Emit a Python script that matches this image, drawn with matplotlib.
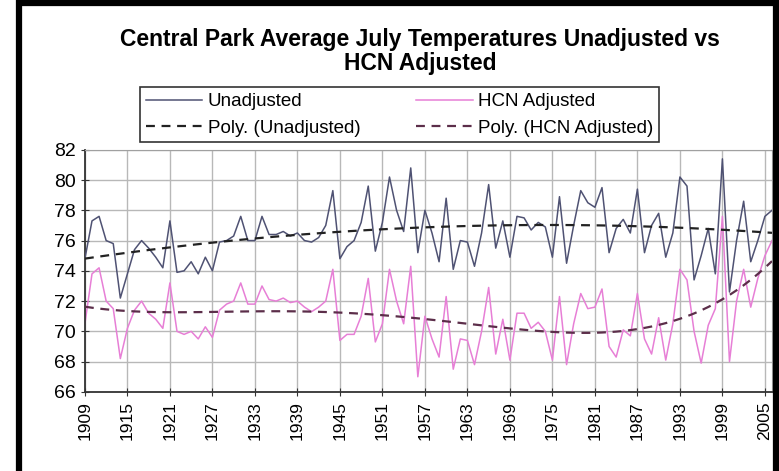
import numpy as np
import matplotlib
matplotlib.use('Agg')
import matplotlib.pyplot as plt
from matplotlib.patches import Rectangle

plt.rcParams['font.family'] = ['Liberation Sans', 'DejaVu Sans']

# Years 1909-2006
years = list(range(1909, 2007))

# Unadjusted July averages (deg F)
unadjusted = [
    74.8, 77.3, 77.6, 76.0, 75.8, 72.2, 73.8, 75.4, 76.0, 75.5,  # 1909-1918
    74.9, 74.2, 77.3, 73.9, 74.0, 74.6, 73.8, 74.9, 74.0, 75.9,  # 1919-1928
    76.0, 76.3, 77.6, 76.0, 76.0, 77.6, 76.4, 76.4, 76.6, 76.3,  # 1929-1938
    76.5, 76.0, 75.9, 76.2, 77.0, 79.3, 74.8, 75.6, 76.0, 77.2,  # 1939-1948
    79.6, 75.3, 77.2, 80.2, 78.0, 76.6, 80.8, 75.2, 78.0, 76.5,  # 1949-1958
    74.6, 78.8, 74.1, 76.0, 75.9, 74.3, 76.5, 79.7, 75.5, 77.3,  # 1959-1968
    74.9, 77.6, 77.5, 76.7, 77.2, 76.9, 74.9, 78.9, 74.5, 77.0,  # 1969-1978
    79.3, 78.5, 78.2, 79.5, 75.2, 76.8, 77.4, 76.5, 79.4, 75.2,  # 1979-1988
    77.0, 77.8, 74.9, 76.5, 80.2, 79.6, 73.4, 75.0, 76.8, 73.8,  # 1989-1998
    81.4, 72.6, 76.0, 78.6, 74.6, 76.0, 77.6, 78.0,              # 1999-2006
]

# HCN adjusted July averages (deg F)
hcn_adjusted = [
    70.5, 73.8, 74.2, 72.0, 71.5, 68.2, 70.2, 71.4, 72.0, 71.2,  # 1909-1918
    70.8, 70.2, 73.2, 70.0, 69.8, 70.0, 69.5, 70.3, 69.6, 71.4,  # 1919-1928
    71.8, 72.0, 73.2, 71.8, 71.8, 73.0, 72.1, 72.0, 72.2, 71.9,  # 1929-1938
    72.0, 71.6, 71.3, 71.6, 72.0, 74.1, 69.4, 69.8, 69.8, 71.0,  # 1939-1948
    73.5, 69.3, 70.5, 74.1, 72.0, 70.5, 74.3, 67.0, 71.0, 69.5,  # 1949-1958
    68.3, 72.3, 67.5, 69.5, 69.4, 67.8, 70.0, 72.9, 68.5, 70.8,  # 1959-1968
    68.1, 71.2, 71.2, 70.2, 70.6, 70.0, 68.1, 72.3, 67.8, 70.5,  # 1969-1978
    72.5, 71.5, 71.6, 72.8, 69.0, 68.3, 70.1, 69.7, 72.5, 69.5,  # 1979-1988
    68.5, 70.9, 68.1, 70.5, 74.1, 73.4, 70.0, 67.9, 70.4, 71.5,  # 1989-1998
    77.6, 68.0, 72.0, 74.1, 71.6, 73.5, 75.0, 76.0,              # 1999-2006
]

tick_years = list(range(1909, 2006, 6))

x = np.array(years)
u = np.array(unadjusted)
h = np.array(hcn_adjusted)

# Polynomial trendlines like Excel's "Poly." option
xc = (x - x.mean()) / 10.0
u_trend = np.polyval(np.polyfit(xc, u, 2), xc)
h_trend = np.polyval(np.polyfit(xc, h, 4), xc)

fig = plt.figure(figsize=(7.79, 4.71), dpi=100)
ax = fig.add_axes([0.109, 0.168, 0.882, 0.514])

# Outer black frame of the screenshot
fig.patches.append(Rectangle((18.5 / 779, -0.1), (776 - 18.5) / 779, 1.1 - 3 / 471,
                             transform=fig.transFigure, fill=False,
                             edgecolor='black', linewidth=4.5, zorder=10))

ax.plot(x, u, color='#4f5273', lw=1.1, label='Unadjusted', zorder=3)
ax.plot(x, u_trend, color='#222222', lw=1.6, ls=(0, (4, 3)), label='Poly. (Unadjusted)', zorder=4)
ax.plot(x, h, color='#e77fd6', lw=1.1, label='HCN Adjusted', zorder=2)
ax.plot(x, h_trend, color='#5c2e4a', lw=1.6, ls=(0, (4, 3)), label='Poly. (HCN Adjusted)', zorder=4)

ax.set_xlim(1909, 2006)
ax.set_ylim(66, 82)
ax.set_yticks(range(66, 83, 2))
ax.set_xticks(tick_years)
ax.set_xticklabels([str(t) for t in tick_years], rotation=90, fontsize=12.5)
ax.tick_params(axis='y', labelsize=14, direction='inout', length=6, color='#333333')
ax.tick_params(axis='x', direction='inout', length=6, color='#333333')
ax.grid(True, color='#b8b8b8', lw=1.0)
ax.set_axisbelow(True)

for side in ['top', 'right']:
    ax.spines[side].set_color('#a0a0a0')
for side in ['left', 'bottom']:
    ax.spines[side].set_color('#333333')
    ax.spines[side].set_linewidth(1.3)

fig.text(0.539, 0.89, 'Central Park Average July Temperatures Unadjusted vs\nHCN Adjusted',
         ha='center', va='center', fontsize=16.5, fontweight='bold', linespacing=1.05)

leg = fig.legend(loc='center', bbox_to_anchor=(0.513, 0.756), ncol=2, fontsize=13.5,
                 frameon=True, fancybox=False, edgecolor='black', handlelength=3.0,
                 columnspacing=3.0, borderpad=0.3, labelspacing=0.5, handletextpad=0.3)
leg.get_frame().set_linewidth(1.2)

fig.savefig('out.png', dpi=100)
